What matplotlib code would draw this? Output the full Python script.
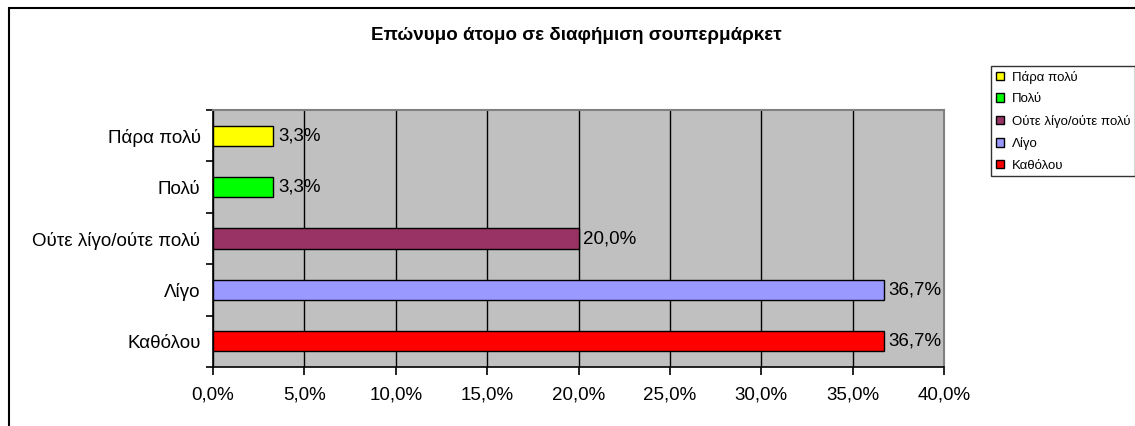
import numpy as np
import matplotlib
matplotlib.use('Agg')
import matplotlib.pyplot as plt
from matplotlib.patches import Rectangle
from matplotlib.ticker import MultipleLocator, FuncFormatter

plt.rcParams['font.family'] = ['Liberation Sans', 'DejaVu Sans']

title = 'Επώνυμο άτομο σε διαφήμιση σουπερμάρκετ'
categories = ['Καθόλου', 'Λίγο', 'Ούτε λίγο/ούτε πολύ', 'Πολύ', 'Πάρα πολύ']
values = [36.7, 36.7, 20.0, 3.3, 3.3]
colors = ['#FF0000', '#9999FF', '#993366', '#00FF00', '#FFFF00']
legend_labels = ['Πάρα πολύ', 'Πολύ', 'Ούτε λίγο/ούτε πολύ', 'Λίγο', 'Καθόλου']


def pct(v, pos=None):
    return ('%.1f%%' % v).replace('.', ',')


def main():
    fig = plt.figure(figsize=(11.35, 4.26), dpi=100)
    ax = fig.add_axes([213/1135, 1-367/426, (944-213)/1135, (367-110)/426])
    ax.set_facecolor('#C0C0C0')

    y = np.arange(len(categories))
    bars = []
    for i, (v, c) in enumerate(zip(values, colors)):
        b = ax.barh(y[i], v, height=0.39, color=c, edgecolor='black',
                    linewidth=1.0, zorder=3)
        bars.append(b)
        ax.text(v + 0.25, y[i], pct(v), va='center', ha='left',
                fontsize=13.5, zorder=4)

    ax.set_xlim(0, 40)
    ax.set_ylim(-0.5, len(categories) - 0.5)
    ax.xaxis.set_major_locator(MultipleLocator(5))
    ax.xaxis.set_major_formatter(FuncFormatter(pct))
    ax.grid(True, axis='x', color='black', linewidth=1.0, zorder=1)

    ax.set_yticks(y)
    ax.set_yticklabels(categories)
    ax.set_yticks(np.arange(-0.5, len(categories)), minor=True)
    ax.tick_params(axis='y', which='major', length=0, pad=9, labelsize=13.5)
    ax.tick_params(axis='y', which='minor', length=5, width=1.2, color='black')
    ax.tick_params(axis='x', length=6, width=1.2, pad=8, labelsize=13.5)

    for s in ['left', 'bottom']:
        ax.spines[s].set_color('black')
        ax.spines[s].set_linewidth(1.2)
    for s in ['top', 'right']:
        ax.spines[s].set_color('#808080')
        ax.spines[s].set_linewidth(1.5)

    fig.text(576/1135, 1-35/426, title, ha='center', va='center',
             fontsize=13.5, fontweight='bold')

    leg = fig.legend([bars[4], bars[3], bars[2], bars[1], bars[0]], legend_labels,
                     loc='upper left', bbox_to_anchor=(991/1135, 1-66/426),
                     fontsize=9.5, frameon=True, fancybox=False,
                     handlelength=0.65, handleheight=0.65, handletextpad=0.6,
                     labelspacing=0.72, borderpad=0.35, borderaxespad=0)
    leg.get_frame().set_edgecolor('black')
    leg.get_frame().set_linewidth(1.0)

    fig.patches.append(Rectangle((9/1135, -0.05), 1.1, 1-8/426+0.05,
                                 transform=fig.transFigure, fill=False,
                                 edgecolor='black', linewidth=1.5))

    plt.savefig('out.png', dpi=100)


if __name__ == '__main__':
    main()
